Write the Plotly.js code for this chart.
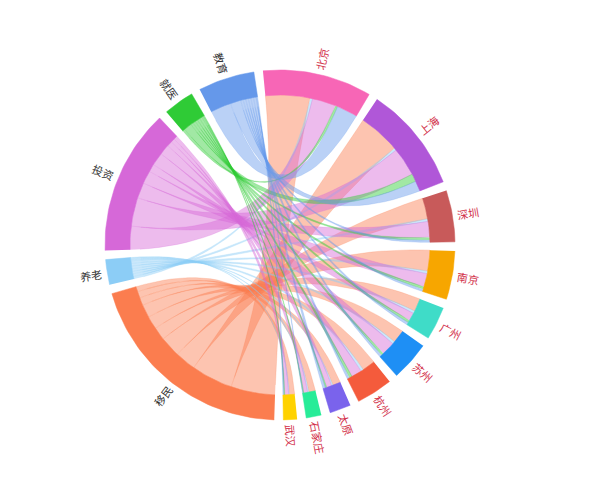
<!DOCTYPE html>
<html>
<head>
<meta charset="utf-8">
<script src="https://cdn.plot.ly/plotly-3.0.1.min.js"></script>
<style>body{margin:0;background:#fff}</style>
</head>
<body>
<div id="plot" style="width:600px;height:490px"></div>
<script>
// groups going clockwise from the top
const cities = ['北京', '上海', '深圳', '南京', '广州', '苏州', '杭州', '太原', '石家庄', '武汉'];
const purposes = ['移民', '养老', '投资', '就医', '教育'];

const cityColors = ['#f766b6', '#b057d8', '#c85a5a', '#f7a600', '#3fdcc8', '#1e8ff5', '#f45b3c', '#7a63ec', '#27ec98', '#ffd200'];
const purposeColors = ['#fb7d4f', '#8ccdf6', '#d668d8', '#2fcb36', '#6598ea'];

// flows[purpose][city]
const migrate = [17, 16, 8, 8, 5, 5, 5, 3, 2.5, 2];
const pension = [1, 1, 1, 1, 1, 1, 1, 0.5, 0.5, 0.3];
const invest = [9, 11, 6, 5, 3, 5, 4, 2, 1.5, 1.5];
const medical = [1, 3, 1, 1, 1, 1, 1, 0.5, 0.3, 0.3];
const education = [8, 4, 1, 1, 1, 1, 1, 1, 0.2, 0.4];
const flows = [migrate, pension, invest, medical, education];

const R = 175, RI = 150;
const gap = 3;
const startAngle = -5.6;

function rad(d) { return d * Math.PI / 180; }
function pt(r, deg) { return [r * Math.sin(rad(deg)), r * Math.cos(rad(deg))]; }

// group totals, in clockwise order: cities then purposes
const cityTot = cities.map((c, j) => flows.reduce((s, row) => s + row[j], 0));
const purpTot = flows.map(row => row.reduce((a, b) => a + b, 0));
const totals = cityTot.concat(purpTot);
const sum = totals.reduce((a, b) => a + b, 0);
const k = (360 - gap * totals.length) / sum;

const groups = [];
let a = startAngle;
totals.forEach((t, i) => {
    groups.push({ a0: a, a1: a + t * k });
    a += t * k + gap;
});

function arcPts(r, a0, a1) {
    const xs = [], ys = [];
    const n = Math.max(4, Math.ceil(Math.abs(a1 - a0) / 1.5));
    for (let i = 0; i <= n; i++) {
        const p = pt(r, a0 + (a1 - a0) * i / n);
        xs.push(p[0]); ys.push(p[1]);
    }
    return [xs, ys];
}

function bez(p0, p2) {
    const xs = [], ys = [];
    for (let i = 1; i < 30; i++) {
        const t = i / 30;
        xs.push((1 - t) * (1 - t) * p0[0] + t * t * p2[0]);
        ys.push((1 - t) * (1 - t) * p0[1] + t * t * p2[1]);
    }
    return [xs, ys];
}

function hexA(hex, al) {
    const n = parseInt(hex.slice(1), 16);
    return `rgba(${n >> 16},${(n >> 8) & 255},${n & 255},${al})`;
}

const traces = [];

// subgroup offsets
const cityOff = cities.map((c, j) => groups[j].a0);
const purpOff = purposes.map((p, i) => groups[cities.length + i].a0);

flows.forEach((row, i) => {
    row.forEach((v, j) => {
        const s0 = purpOff[i], s1 = s0 + v * k;
        purpOff[i] = s1;
        const t0 = cityOff[j], t1 = t0 + v * k;
        cityOff[j] = t1;
        const sa = arcPts(RI, s0, s1);
        const c1 = bez(pt(RI, s1), pt(RI, t0));
        const ta = arcPts(RI, t0, t1);
        const c2 = bez(pt(RI, t1), pt(RI, s0));
        traces.push({
            x: [].concat(sa[0], c1[0], ta[0], c2[0]),
            y: [].concat(sa[1], c1[1], ta[1], c2[1]),
            type: 'scatter', mode: 'lines', fill: 'toself',
            fillcolor: hexA(purposeColors[i], 0.45),
            line: { color: hexA(purposeColors[i], 0.35), width: 0.6 },
            hoverinfo: 'skip', showlegend: false
        });
    });
});

const names = cities.concat(purposes);
const colors = cityColors.concat(purposeColors);
const annotations = [];

groups.forEach((g, i) => {
    const o = arcPts(R, g.a0, g.a1);
    const inn = arcPts(RI, g.a1, g.a0);
    traces.push({
        x: o[0].concat(inn[0]), y: o[1].concat(inn[1]),
        type: 'scatter', mode: 'lines', fill: 'toself',
        fillcolor: colors[i], line: { color: colors[i], width: 0.5 },
        hoverinfo: 'skip', showlegend: false
    });
    const mid = (g.a0 + g.a1) / 2;
    const name = names[i];
    const p = pt(R + 5 + name.length * 5.5, mid);
    const ang = mid < 180 ? mid - 90 : mid - 270;
    annotations.push({
        x: p[0], y: p[1], text: name, showarrow: false, textangle: ang,
        font: { size: 11, color: i < cities.length ? '#d2304a' : '#333333', family: 'Noto Sans CJK SC' }
    });
});

const layout = {
    width: 600, height: 490,
    margin: { l: 0, r: 0, t: 0, b: 0 },
    paper_bgcolor: '#ffffff', plot_bgcolor: '#ffffff',
    xaxis: { range: [-280, 320], visible: false, fixedrange: true },
    yaxis: { range: [-245, 245], visible: false, fixedrange: true },
    annotations: annotations,
    showlegend: false
};

Plotly.newPlot('plot', traces, layout, { displayModeBar: false, staticPlot: true });
</script>
</body>
</html>
